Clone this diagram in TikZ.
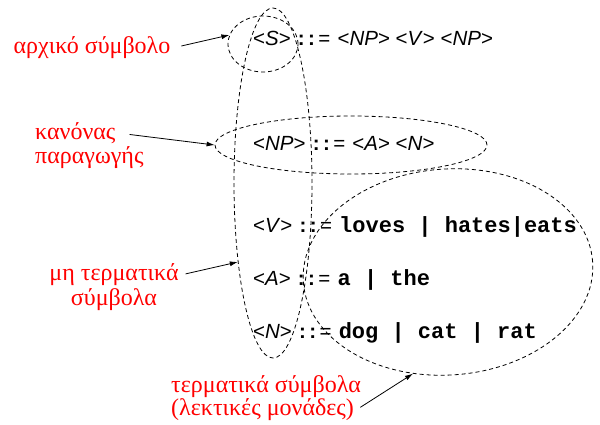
\documentclass[tikz,border=0pt]{standalone}
\usepackage{fontspec}
\setmainfont{Liberation Serif}
\setsansfont{Liberation Sans}
\setmonofont{Liberation Mono}
\newfontfamily\grfont{Liberation Serif}
\usetikzlibrary{arrows.meta,shapes.geometric}
\newcommand{\nt}[1]{<\textit{#1}>}
\newcommand{\is}{\hspace{0.35em}\textbf{:\,:}\,=\hspace{0.35em}}
\newcommand{\tw}[1]{{\fontsize{22}{24}\selectfont\ttfamily\bfseries #1}}
\begin{document}
\begin{tikzpicture}[x=1pt,y=-1pt,>={Latex[length=8pt,width=5pt]},
  lbl/.style={text=red,font=\grfont\fontsize{24}{26}\selectfont,inner sep=2pt},
  rule/.style={anchor=west,inner sep=0pt,font=\sffamily\fontsize{20.5}{24}\selectfont},
  grp/.style={ellipse,draw,dash pattern=on 4pt off 3pt,line width=0.8pt,inner sep=0pt}]
\useasboundingbox (0,0) rectangle (600,425);
% grammar rules
\node[rule] (r1) at (253,38) {\nt{S}\is\nt{NP} \nt{V} \nt{NP}};
\node[rule] (r2) at (253,143) {\nt{NP}\is\nt{A} \nt{N}};
\node[rule] (r3) at (253,227) {\nt{V}\is\tw{loves | hates|eats}};
\node[rule] (r4) at (253,280) {\nt{A}\is\tw{a | the}};
\node[rule] (r5) at (253,333) {\nt{N}\is\tw{dog | cat | rat}};
% dashed groups
\node[grp,minimum width=70,minimum height=56] (sE) at (263,44) {};
\node[grp,minimum width=78,minimum height=350] (ntE) at (273,183) {};
\node[grp,minimum width=272,minimum height=58] (rE) at (351,145) {};
\node[grp,minimum width=290,minimum height=206,rotate=4] (tE) at (448,272) {};
% labels
\node[lbl] (l1) at (92,48) {αρχικό σύμβολο};
\node[lbl,anchor=west] (l2a) at (33,133) {κανόνας};
\node[lbl,anchor=west] (l2b) at (33,158) {παραγωγής};
\node[lbl] (l3a) at (114,275) {μη τερματικά};
\node[lbl] (l3b) at (114,300) {σύμβολα};
\node[lbl,anchor=west] (l4a) at (169,387) {τερματικά σύμβολα};
\node[lbl,anchor=west] (l4b) at (169,410) {(λεκτικές μονάδες)};
% arrows
\draw[->,line width=0.8pt,shorten <=9pt] (l1.east) -- (sE.165);
\draw[->,line width=0.8pt,shorten <=12pt] (l2a.east) -- (rE.180);
\draw[->,line width=0.8pt,shorten <=5pt] (l3a.east) -- (ntE.246);
\draw[->,line width=0.8pt,shorten <=5pt] (l4b.east) -- (tE.247);
\end{tikzpicture}
\end{document}
